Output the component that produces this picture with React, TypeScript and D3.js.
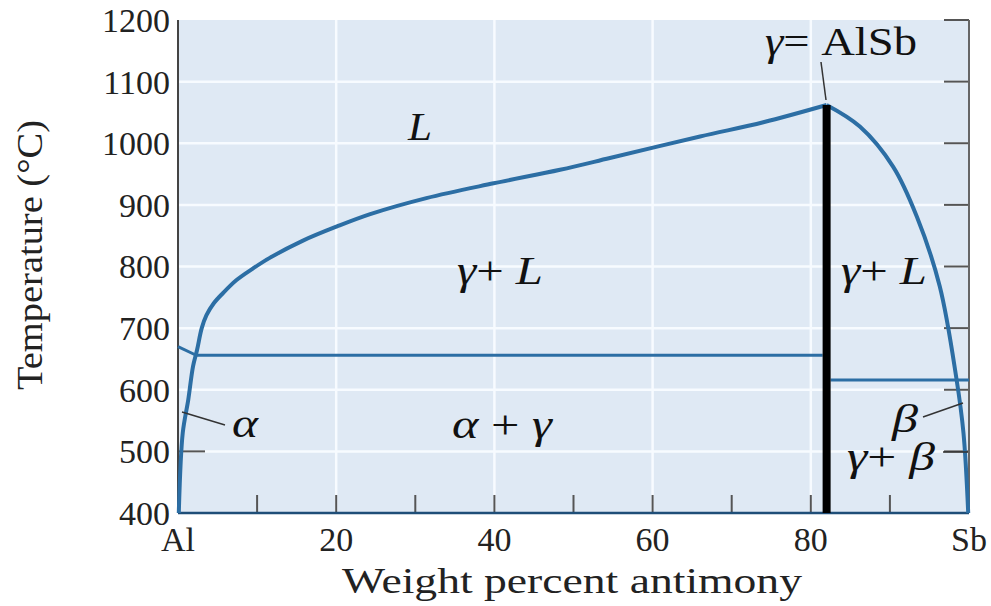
import React, { useEffect, useRef } from 'react'
import * as d3 from 'd3'

// weight percent Sb, temperature in °C
const liquidusAlSide: [number, number][] = [
  [0.1, 400], [0.6, 530], [1.3, 584], [1.9, 638], [2.4, 664], [3.0, 700],
  [3.6, 721], [4.5, 740], [5.7, 757], [7.4, 778], [9.5, 797], [11.6, 814], [15.8, 842], [20.1, 865], [24.3, 885],
  [31.4, 911], [39.9, 935], [48.3, 957], [54.6, 976], [66.0, 1011], [74.0, 1034], [82.0, 1062],
]
const liquidusSbSide: [number, number][] = [
  [82.0, 1062], [86.2, 1027], [90.4, 962], [93.4, 881], [96.3, 768],
  [98.4, 619], [99.3, 530], [99.9, 400],
]
const alphaSolidus: [number, number][] = [[0, 670], [2.3, 656]]
const eutecticLeft: [number, number][] = [[2.3, 656], [81.5, 656]]
const eutecticRight: [number, number][] = [[82.5, 616], [100, 616]]
const compound: [number, number][] = [[82.0, 1062], [82.0, 400]]

const yTicks = [400, 500, 600, 700, 800, 900, 1000, 1100, 1200]
const yGrid = [500, 600, 700, 800, 900, 1000, 1100]
const xLabelPos = [0, 20, 40, 60, 80, 100]
const xLabels = ['Al', '20', '40', '60', '80', 'Sb']
const xGrid = [20, 40, 60, 80]
const xMinor = [10, 20, 30, 40, 50, 60, 70, 80, 90]
const rightTicks = [500, 600, 700, 800, 900, 1000, 1100, 1200]
const leftTicks = [500]

const W = 991, H = 606
const margin = { top: 20, right: 22, bottom: 93, left: 178 }
const blue = '#2c6ea4'
const serif = '"Liberation Serif", "DejaVu Serif", serif'

const App = () => {
  const ref = useRef<SVGSVGElement>(null)

  useEffect(() => {
    const svg = d3.select(ref.current)
    svg.selectAll('*').remove()
    const x = d3.scaleLinear().domain([0, 100]).range([margin.left, W - margin.right])
    const y = d3.scaleLinear().domain([400, 1200]).range([H - margin.bottom, margin.top])
    const x0 = x(0), x1 = x(100), y0 = y(400), y1 = y(1200)

    svg.append('rect').attr('x', x0).attr('y', y1).attr('width', x1 - x0).attr('height', y0 - y1)
      .attr('fill', '#dfe9f4')

    svg.selectAll('.hgrid').data(yGrid).enter().append('line')
      .attr('x1', x0).attr('x2', x1).attr('y1', d => y(d)).attr('y2', d => y(d))
      .attr('stroke', '#f7fbff').attr('stroke-width', 2.5)
    svg.selectAll('.vgrid').data(xGrid).enter().append('line')
      .attr('x1', d => x(d)).attr('x2', d => x(d)).attr('y1', y1).attr('y2', y0)
      .attr('stroke', '#f7fbff').attr('stroke-width', 2.5)

    // inward ticks
    const tickColor = '#555'
    svg.selectAll('.rt').data(rightTicks).enter().append('line')
      .attr('x1', x1 - 25).attr('x2', x1).attr('y1', d => y(d)).attr('y2', d => y(d))
      .attr('stroke', tickColor).attr('stroke-width', 2)
    svg.selectAll('.lt').data(leftTicks).enter().append('line')
      .attr('x1', x0).attr('x2', x0 + 27).attr('y1', d => y(d)).attr('y2', d => y(d))
      .attr('stroke', tickColor).attr('stroke-width', 2)
    svg.selectAll('.bt').data(xMinor).enter().append('line')
      .attr('x1', d => x(d)).attr('x2', d => x(d)).attr('y1', y0 - 18).attr('y2', y0)
      .attr('stroke', tickColor).attr('stroke-width', 2)

    // axes frame: left, right, bottom
    svg.append('line').attr('x1', x0).attr('x2', x0).attr('y1', y1).attr('y2', y0)
      .attr('stroke', '#444').attr('stroke-width', 2)
    svg.append('line').attr('x1', x1).attr('x2', x1).attr('y1', y1).attr('y2', y0)
      .attr('stroke', '#666').attr('stroke-width', 2)
    svg.append('line').attr('x1', x0).attr('x2', x1).attr('y1', y0).attr('y2', y0)
      .attr('stroke', '#1f4e78').attr('stroke-width', 2.5)

    const line = d3.line<[number, number]>().x(d => x(d[0])).y(d => y(d[1]))
    const smooth = d3.line<[number, number]>().x(d => x(d[0])).y(d => y(d[1]))
      .curve(d3.curveCatmullRom.alpha(0.5))

    ;[eutecticLeft, eutecticRight, alphaSolidus].forEach(seg => {
      svg.append('path').attr('d', line(seg)).attr('fill', 'none')
        .attr('stroke', blue).attr('stroke-width', 3)
    })
    ;[liquidusAlSide, liquidusSbSide].forEach(seg => {
      svg.append('path').attr('d', smooth(seg)).attr('fill', 'none')
        .attr('stroke', blue).attr('stroke-width', 4).attr('stroke-linejoin', 'round')
    })
    svg.append('path').attr('d', line(compound)).attr('fill', 'none')
      .attr('stroke', '#000').attr('stroke-width', 8)

    // tick labels
    svg.selectAll('.yl').data(yTicks).enter().append('text')
      .attr('x', x0 - 8).attr('y', d => y(d)).attr('dy', '0.35em')
      .attr('text-anchor', 'end').attr('font-family', serif).attr('font-size', 34)
      .attr('fill', '#222').text(d => d)
    svg.selectAll('.xl').data(xLabelPos).enter().append('text')
      .attr('x', d => x(d)).attr('y', y0 + 38)
      .attr('text-anchor', 'middle').attr('font-family', serif).attr('font-size', 34)
      .attr('fill', '#222').text((d, i) => xLabels[i])

    svg.append('text').attr('x', 572).attr('y', y0 + 80)
      .attr('text-anchor', 'middle').attr('font-family', serif).attr('font-size', 36)
      .attr('textLength', 460).attr('lengthAdjust', 'spacingAndGlyphs')
      .attr('fill', '#222').text('Weight percent antimony')
    svg.append('text')
      .attr('transform', `translate(42,${255}) rotate(-90)`)
      .attr('text-anchor', 'middle').attr('font-family', serif).attr('font-size', 35)
      .attr('textLength', 270).attr('lengthAdjust', 'spacingAndGlyphs')
      .attr('fill', '#222').text('Temperature (°C)')

    // region labels
    const label = (px: number, py: number, parts: [string, boolean][], len: number) => {
      const t = svg.append('text').attr('x', px).attr('y', py).attr('text-anchor', 'middle')
        .attr('font-family', serif).attr('font-size', 40).attr('fill', '#111')
        .attr('textLength', len).attr('lengthAdjust', 'spacingAndGlyphs')
      parts.forEach(([s, it]) => t.append('tspan').attr('font-style', it ? 'italic' : 'normal').text(s))
    }
    label(420, 140, [['L', true]], 24)
    label(500, 284, [['γ', true], ['+ ', false], ['L', true]], 86)
    label(502, 438, [['α', true], [' + ', false], ['γ', true]], 100)
    label(884, 284, [['γ', true], ['+ ', false], ['L', true]], 86)
    label(245, 437, [['α', true]], 26)
    label(905, 432, [['β', true]], 26)
    label(891, 470, [['γ', true], ['+ ', false], ['β', true]], 88)
    label(841, 55, [['γ', true], ['= AlSb', false]], 152)

    // leader lines
    const leaders = [
      [182, 412, 225, 425],
      [821, 62, 826, 100],
      [923, 417, 963, 403],
      [943, 452, 968, 452],
    ]
    svg.selectAll('.lead').data(leaders).enter().append('line')
      .attr('x1', d => d[0]).attr('y1', d => d[1]).attr('x2', d => d[2]).attr('y2', d => d[3])
      .attr('stroke', '#333').attr('stroke-width', 1.5)
  }, [])

  return (
    <svg ref={ref} width={W} height={H}
      style={{ position: 'absolute', left: 0, top: 0, background: '#fff' }} />
  )
}

export default App
